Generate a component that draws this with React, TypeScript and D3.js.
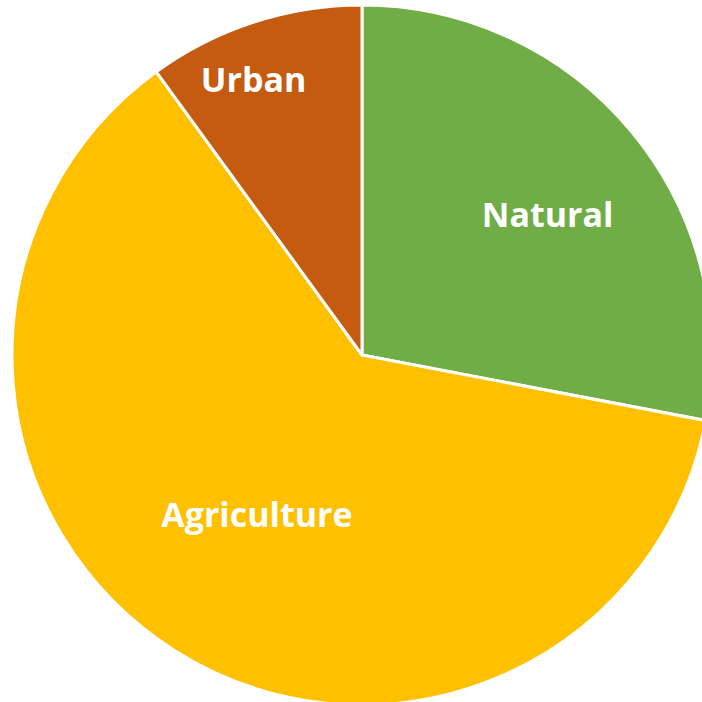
import React from "react";
import * as d3 from "d3";

const categories = ["Natural", "Agriculture", "Urban"];
const values = [28, 62, 10];
const colors = ["#70AD47", "#FFC000", "#C55A11"];

// layout constants for label placement
const labelRadiusFrac = [0.664, 0.547, 0.845];
const labelAngleShiftDeg = [2.6, 0.9, -3.5];

const W = 702;
const H = 702;
const cx = 362;
const cy = 355;
const R = 350;
const FS = 34;

export default function App() {
  const pie = d3
    .pie<number>()
    .sort(null)
    .value((d) => d);
  const arcs = pie(values);
  const arc = d3.arc<d3.PieArcDatum<number>>().innerRadius(0).outerRadius(R);

  return (
    <svg
      width={W}
      height={H}
      style={{ position: "absolute", left: 0, top: 0 }}
    >
      <rect width={W} height={H} fill="#ffffff" />
      <g transform={`translate(${cx},${cy})`}>
        {arcs.map((a, i) => (
          <path
            key={categories[i]}
            d={arc(a) || ""}
            fill={colors[i]}
            stroke="#ffffff"
            strokeWidth={3}
            strokeLinejoin="round"
          />
        ))}
        {arcs.map((a, i) => {
          const mid =
            (a.startAngle + a.endAngle) / 2 +
            (labelAngleShiftDeg[i] * Math.PI) / 180;
          const r = R * labelRadiusFrac[i];
          const x = Math.sin(mid) * r;
          const y = -Math.cos(mid) * r;
          return (
            <text
              key={"l" + categories[i]}
              x={x}
              y={y + FS * 0.357}
              textAnchor="middle"
              fill="#ffffff"
              fontFamily="'Open Sans', Lato, sans-serif"
              fontWeight="bold"
              fontSize={FS}
            >
              {categories[i]}
            </text>
          );
        })}
      </g>
    </svg>
  );
}
